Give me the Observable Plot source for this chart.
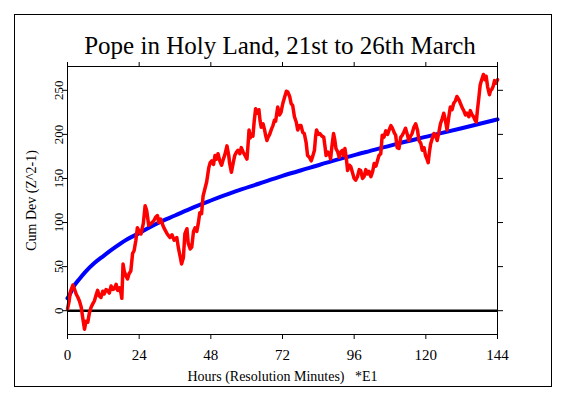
<!DOCTYPE html>
<html><head><meta charset="utf-8">
<script src="https://cdn.jsdelivr.net/npm/d3@7"></script>
<script src="https://cdn.jsdelivr.net/npm/@observablehq/plot@0.6"></script>
<style>
body{margin:0;background:#fff;}
#wrap{position:relative;width:564px;height:398px;}
#border{position:absolute;left:14px;top:14px;width:536px;height:371px;border:1px solid #000;pointer-events:none;}
#wrap svg{position:absolute;left:0;top:0;}
</style></head><body><div id="wrap"><div id="border"></div></div>
<script>
const titleText = "Pope in Holy Land, 21st to 26th March";
const xLabel = "Hours (Resolution Minutes)\u00a0\u00a0\u00a0*E1";
const yLabel = "Cum Dev (Z^2-1)";
const xTicks = [0, 24, 48, 72, 96, 120, 144];
const yTicks = [0, 50, 100, 150, 200, 250];

// expectation envelope (blue)
const blueHours = [0, 1, 2, 4, 6, 9, 12, 16, 20, 24, 30, 36, 42, 48, 56, 64, 72, 81, 90, 100, 110, 121, 132, 144];
const blueValues = [14, 20, 27, 36, 44, 54, 62, 72, 81, 88, 99, 108, 117, 125, 135, 144, 153, 162, 171, 180, 189, 198, 207, 217];

// cumulative deviation (red)
const redHours = [0,0.5,1,1.8,2.4,2.9,3.5,4,4.6,5.1,5.7,6.2,6.8,7.3,7.9,8.5,9,9.6,10.1,10.6,11.2,11.8,12.3,12.9,13.4,14,14.6,15.2,15.7,16.3,16.8,17.4,17.9,18.2,18.6,19,19.5,20.1,20.6,21.2,21.8,22.3,22.9,23.4,24,24.6,25.4,26,26.5,27.2,28,28.9,29.5,30.1,30.6,31.2,31.8,32.3,33.4,34.3,35,35.7,36.6,37.2,37.7,38.2,38.8,39.3,40,40.4,41.1,41.6,42.2,42.7,43.3,43.8,44.3,44.9,45.4,46,46.6,47.3,47.8,48.3,48.9,49.4,49.9,50.4,51,51.6,52.2,52.7,53.4,54,54.3,54.9,55.5,56,56.6,57.1,57.7,58.2,58.8,59.3,60.1,60.5,60.8,61.2,61.6,62.1,62.5,63,63.6,64.1,64.5,64.9,65.5,66,66.4,66.8,67.2,67.7,68.3,68.8,69.3,69.7,70.4,71,71.5,72.1,72.7,73.3,73.8,74.4,74.9,75.4,76,76.6,77.1,77.7,78.2,78.8,79.3,79.9,80.4,81,81.6,82.1,82.7,83.1,83.4,84,84.5,85.2,85.8,86.2,86.6,87.2,87.7,88.1,88.6,89.1,89.5,89.9,90.5,91,91.5,92.1,92.5,92.9,93.4,93.8,94.4,94.9,95.5,96,96.5,97.1,97.7,98.2,98.8,99.3,99.9,100.4,101,101.6,102.2,102.7,103.3,103.8,104.3,104.9,105.4,106,106.6,107.2,107.7,108.3,108.8,109.4,109.9,110.4,111,111.6,112.1,112.7,113.2,113.8,114.3,114.9,115.4,116,116.6,117.2,117.7,118.3,118.8,119.4,119.9,120.4,120.8,121.2,121.6,122.2,122.7,123.3,123.8,124.4,124.9,125.5,126,126.6,127.1,127.7,128.2,128.8,129.3,129.9,130.4,131,131.6,132.2,132.7,133.3,133.8,134.4,134.9,135.5,136,136.5,136.9,137.3,137.7,138.2,138.7,139.3,139.8,140.2,140.7,141.3,141.7,142.1,142.6,143,143.5,144];
const redValues = [2,10,22,29,24,19,15,11,4,-8,-21,-12,-13,-3,4,8,11,18,23,17,15,22,19,24,23,20,28,24,25,30,23,26,20,14,53,45,40,36,42,45,65,68,80,94,90,87,99,119,114,97,99,102,106,108,100,104,98,94,87,83,86,80,83,70,62,53,60,87,93,77,70,72,90,94,90,99,111,110,130,138,146,162,168,170,166,176,172,178,170,165,172,177,187,176,167,157,168,176,180,182,178,185,180,177,172,190,205,196,200,198,214,229,224,228,215,208,212,205,198,193,197,200,206,210,216,215,231,222,225,235,242,249,248,243,235,233,220,214,205,210,210,202,201,191,176,174,170,175,182,198,205,200,201,198,197,187,176,180,178,172,188,201,194,184,180,174,180,182,176,184,172,159,165,163,156,150,148,152,160,159,150,152,160,155,158,152,158,167,164,170,176,178,199,197,204,200,205,210,207,202,199,185,184,197,199,203,207,200,193,198,201,208,212,205,193,190,182,185,176,172,168,180,189,196,201,198,193,203,212,218,224,215,205,220,231,228,235,238,243,240,235,230,227,222,224,220,227,222,220,216,214,228,240,256,262,268,262,266,254,245,250,251,255,261,258,262];

const blue = blueHours.map((h, i) => ({h, v: blueValues[i]}));
const red = redHours.map((h, i) => ({h, v: redValues[i]}));
const font = "'Liberation Serif', 'Times New Roman', serif";

const plot = Plot.plot({
  width: 564, height: 398,
  marginLeft: 67, marginRight: 67, marginTop: 66, marginBottom: 64,
  x: {domain: [0, 144]},
  y: {domain: [-27, 277]},
  style: {fontFamily: font, background: "transparent", color: "#000"},
  marks: [
    Plot.ruleY([0], {stroke: "#000", strokeWidth: 2.5}),
    Plot.line(blue, {x: "h", y: "v", stroke: "#0000ff", strokeWidth: 4, curve: "monotone-x"}),
    Plot.line(red, {x: "h", y: "v", stroke: "#ff0000", strokeWidth: 3.5}),
    Plot.frame({stroke: "#000", strokeWidth: 1}),
    Plot.axisX(xTicks, {anchor: "bottom", tickSize: 5, tickFormat: () => "", label: null, stroke: "#000"}),
    Plot.axisX(xTicks, {anchor: "top", tickSize: 5, tickFormat: () => "", label: null, stroke: "#000"}),
    Plot.axisY(yTicks, {anchor: "left", tickSize: 5, tickFormat: () => "", label: null, stroke: "#000"}),
    Plot.axisY(yTicks, {anchor: "right", tickSize: 5, tickFormat: () => "", label: null, stroke: "#000"}),
    Plot.text(xTicks, {x: d => d, text: d => String(d), frameAnchor: "bottom", dy: 25, lineAnchor: "bottom", textAnchor: "middle", fontSize: 15, fill: "#000"}),
    Plot.text(yTicks, {y: d => d, text: d => String(d), frameAnchor: "left", dx: -5, rotate: -90, lineAnchor: "bottom", textAnchor: "middle", fontSize: 13, fill: "#000"}),
    Plot.text([titleText], {text: d => d, frameAnchor: "top", dx: -2.5, dy: -13, lineAnchor: "bottom", fontSize: 25, fill: "#000"}),
    Plot.text([xLabel], {text: d => d, frameAnchor: "bottom", dy: 46, lineAnchor: "bottom", fontSize: 14, fill: "#000"}),
    Plot.text([yLabel], {text: d => d, frameAnchor: "left", dx: -32, rotate: -90, lineAnchor: "bottom", textAnchor: "middle", fontSize: 14, fill: "#000"})
  ]
});
document.getElementById("wrap").appendChild(plot);
</script>
</body></html>
